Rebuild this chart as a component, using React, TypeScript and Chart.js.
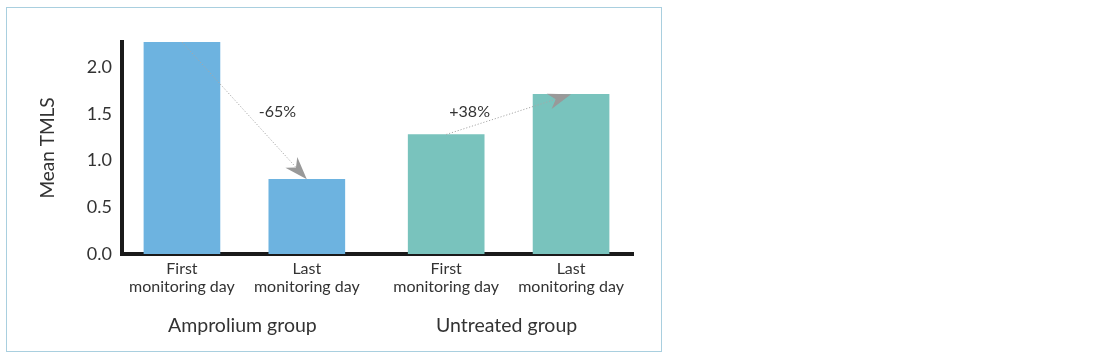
import React, { useEffect, useRef } from "react";
import { Chart, registerables } from "chart.js";

Chart.register(...registerables);

// ---- data ----
const categories: string[][] = [
  ["First", "monitoring day"],
  ["Last", "monitoring day"],
  ["First", "monitoring day"],
  ["Last", "monitoring day"],
];
const groups = ["Amprolium group", "Untreated group"];
const groupOfBar = [0, 0, 1, 1];
const meanTMLS = [2.27, 0.8, 1.28, 1.71];
const barColors = ["#6db3e0", "#6db3e0", "#79c3bd", "#79c3bd"];
const yTicks = [0, 0.5, 1.0, 1.5, 2.0];
const changeFrom = [0, 2];
const changeTo = [1, 3];
const changeLabels = ["-65%", "+38%"];

// layout helpers (positions on the linear x scale)
const GROUP_GAP = 0.116;
const positions = categories.map((_, i) => i + groupOfBar[i] * GROUP_GAP);

const TEXT = "#333333";
const FONT = "Lato, 'Open Sans', sans-serif";
const labelOffsets = [
  [33, 1],
  [-39, -3],
];

const annotationPlugin = {
  id: "annotations",
  afterDatasetsDraw(chart: any) {
    const { ctx, scales } = chart;
    const xs = scales.x;
    const ys = scales.y;
    ctx.save();
    // arrows
    changeFrom.forEach((from, k) => {
      const to = changeTo[k];
      const x1 = xs.getPixelForValue(positions[from]);
      const y1 = ys.getPixelForValue(meanTMLS[from]);
      const x2 = xs.getPixelForValue(positions[to]);
      const y2 = ys.getPixelForValue(meanTMLS[to]);
      const ang = Math.atan2(y2 - y1, x2 - x1);
      const L = 23;
      const W = 16;
      const dx = Math.cos(ang);
      const dy = Math.sin(ang);
      const px = -dy;
      const py = dx;
      const nx = x2 - dx * L * 0.7;
      const ny = y2 - dy * L * 0.7;
      ctx.beginPath();
      ctx.setLineDash([1.2, 1.8]);
      ctx.strokeStyle = "#a8a8a8";
      ctx.lineWidth = 1;
      ctx.moveTo(x1, y1);
      ctx.lineTo(nx, ny);
      ctx.stroke();
      ctx.setLineDash([]);
      ctx.beginPath();
      ctx.fillStyle = "#999999";
      ctx.moveTo(x2, y2);
      ctx.lineTo(x2 - dx * L + px * W / 2, y2 - dy * L + py * W / 2);
      ctx.lineTo(nx, ny);
      ctx.lineTo(x2 - dx * L - px * W / 2, y2 - dy * L - py * W / 2);
      ctx.closePath();
      ctx.fill();
      // label
      ctx.fillStyle = TEXT;
      ctx.font = `16px ${FONT}`;
      ctx.textAlign = "center";
      ctx.textBaseline = "middle";
      ctx.fillText(
        changeLabels[k],
        (x1 + x2) / 2 + labelOffsets[k][0],
        (y1 + y2) / 2 + labelOffsets[k][1]
      );
    });
    // group labels
    ctx.font = `19.5px ${FONT}`;
    ctx.fillStyle = TEXT;
    ctx.textAlign = "center";
    ctx.textBaseline = "alphabetic";
    groups.forEach((g, gi) => {
      const idx = groupOfBar.map((gg, i) => (gg === gi ? i : -1)).filter((i) => i >= 0);
      const cx =
        idx.reduce((s, i) => s + xs.getPixelForValue(positions[i]), 0) / idx.length;
      ctx.fillText(g, cx - 2, chart.chartArea.bottom + 78);
    });
    ctx.restore();
  },
};

export default function App() {
  const ref = useRef<HTMLCanvasElement | null>(null);
  useEffect(() => {
    if (!ref.current) return;
    const chart = new Chart(ref.current, {
      type: "bar",
      data: {
        datasets: [
          {
            data: meanTMLS.map((v, i) => ({ x: positions[i], y: v })),
            backgroundColor: barColors,
            borderWidth: 0,
            barThickness: 76,
          } as any,
        ],
      },
      options: {
        animation: false,
        responsive: false,
        devicePixelRatio: 1,
        layout: { padding: { left: 36, top: 42, right: 467, bottom: 0 } },
        plugins: { legend: { display: false }, tooltip: { enabled: false } },
        scales: {
          x: {
            type: "linear",
            min: -0.48,
            max: 3.612,
            offset: false,
            grid: { display: false, drawTicks: false, offset: false },
            border: { display: true, color: "#1a1a1a", width: 4 },
            afterBuildTicks: (axis: any) => {
              axis.ticks = positions.map((v) => ({ value: v }));
            },
            afterFit: (s: any) => {
              s.height = 106;
            },
            ticks: {
              autoSkip: false,
              maxRotation: 0,
              padding: 6,
              color: TEXT,
              font: { family: FONT, size: 16, lineHeight: 1.12 },
              callback: (v: any) => {
                const i = positions.findIndex((p) => Math.abs(p - Number(v)) < 1e-6);
                return i >= 0 ? categories[i] : "";
              },
            },
          },
          y: {
            min: 0,
            max: meanTMLS[0],
            grid: { display: false, drawTicks: false },
            border: { display: true, color: "#1a1a1a", width: 4 },
            afterBuildTicks: (axis: any) => {
              axis.ticks = yTicks.map((v) => ({ value: v }));
            },
            afterFit: (s: any) => {
              s.width = 86;
            },
            ticks: {
              padding: 10,
              color: TEXT,
              font: { family: FONT, size: 18 },
              callback: (v: any) => Number(v).toFixed(1),
            },
            title: {
              display: true,
              text: "Mean TMLS",
              color: TEXT,
              font: { family: FONT, size: 19 },
              padding: { top: 0, bottom: 0 },
            },
          },
        },
      } as any,
      plugins: [annotationPlugin],
    });
    return () => chart.destroy();
  }, []);

  return (
    <div style={{ position: "absolute", left: 0, top: 0, width: 1100, height: 360, background: "#fff" }}>
      <div
        style={{
          position: "absolute",
          left: 6,
          top: 7,
          width: 656,
          height: 345,
          border: "1px solid #a9cfdf",
          boxSizing: "border-box",
          pointerEvents: "none",
        }}
      />
      <canvas ref={ref} width={1100} height={360} style={{ position: "absolute", left: 0, top: 0 }} />
    </div>
  );
}
